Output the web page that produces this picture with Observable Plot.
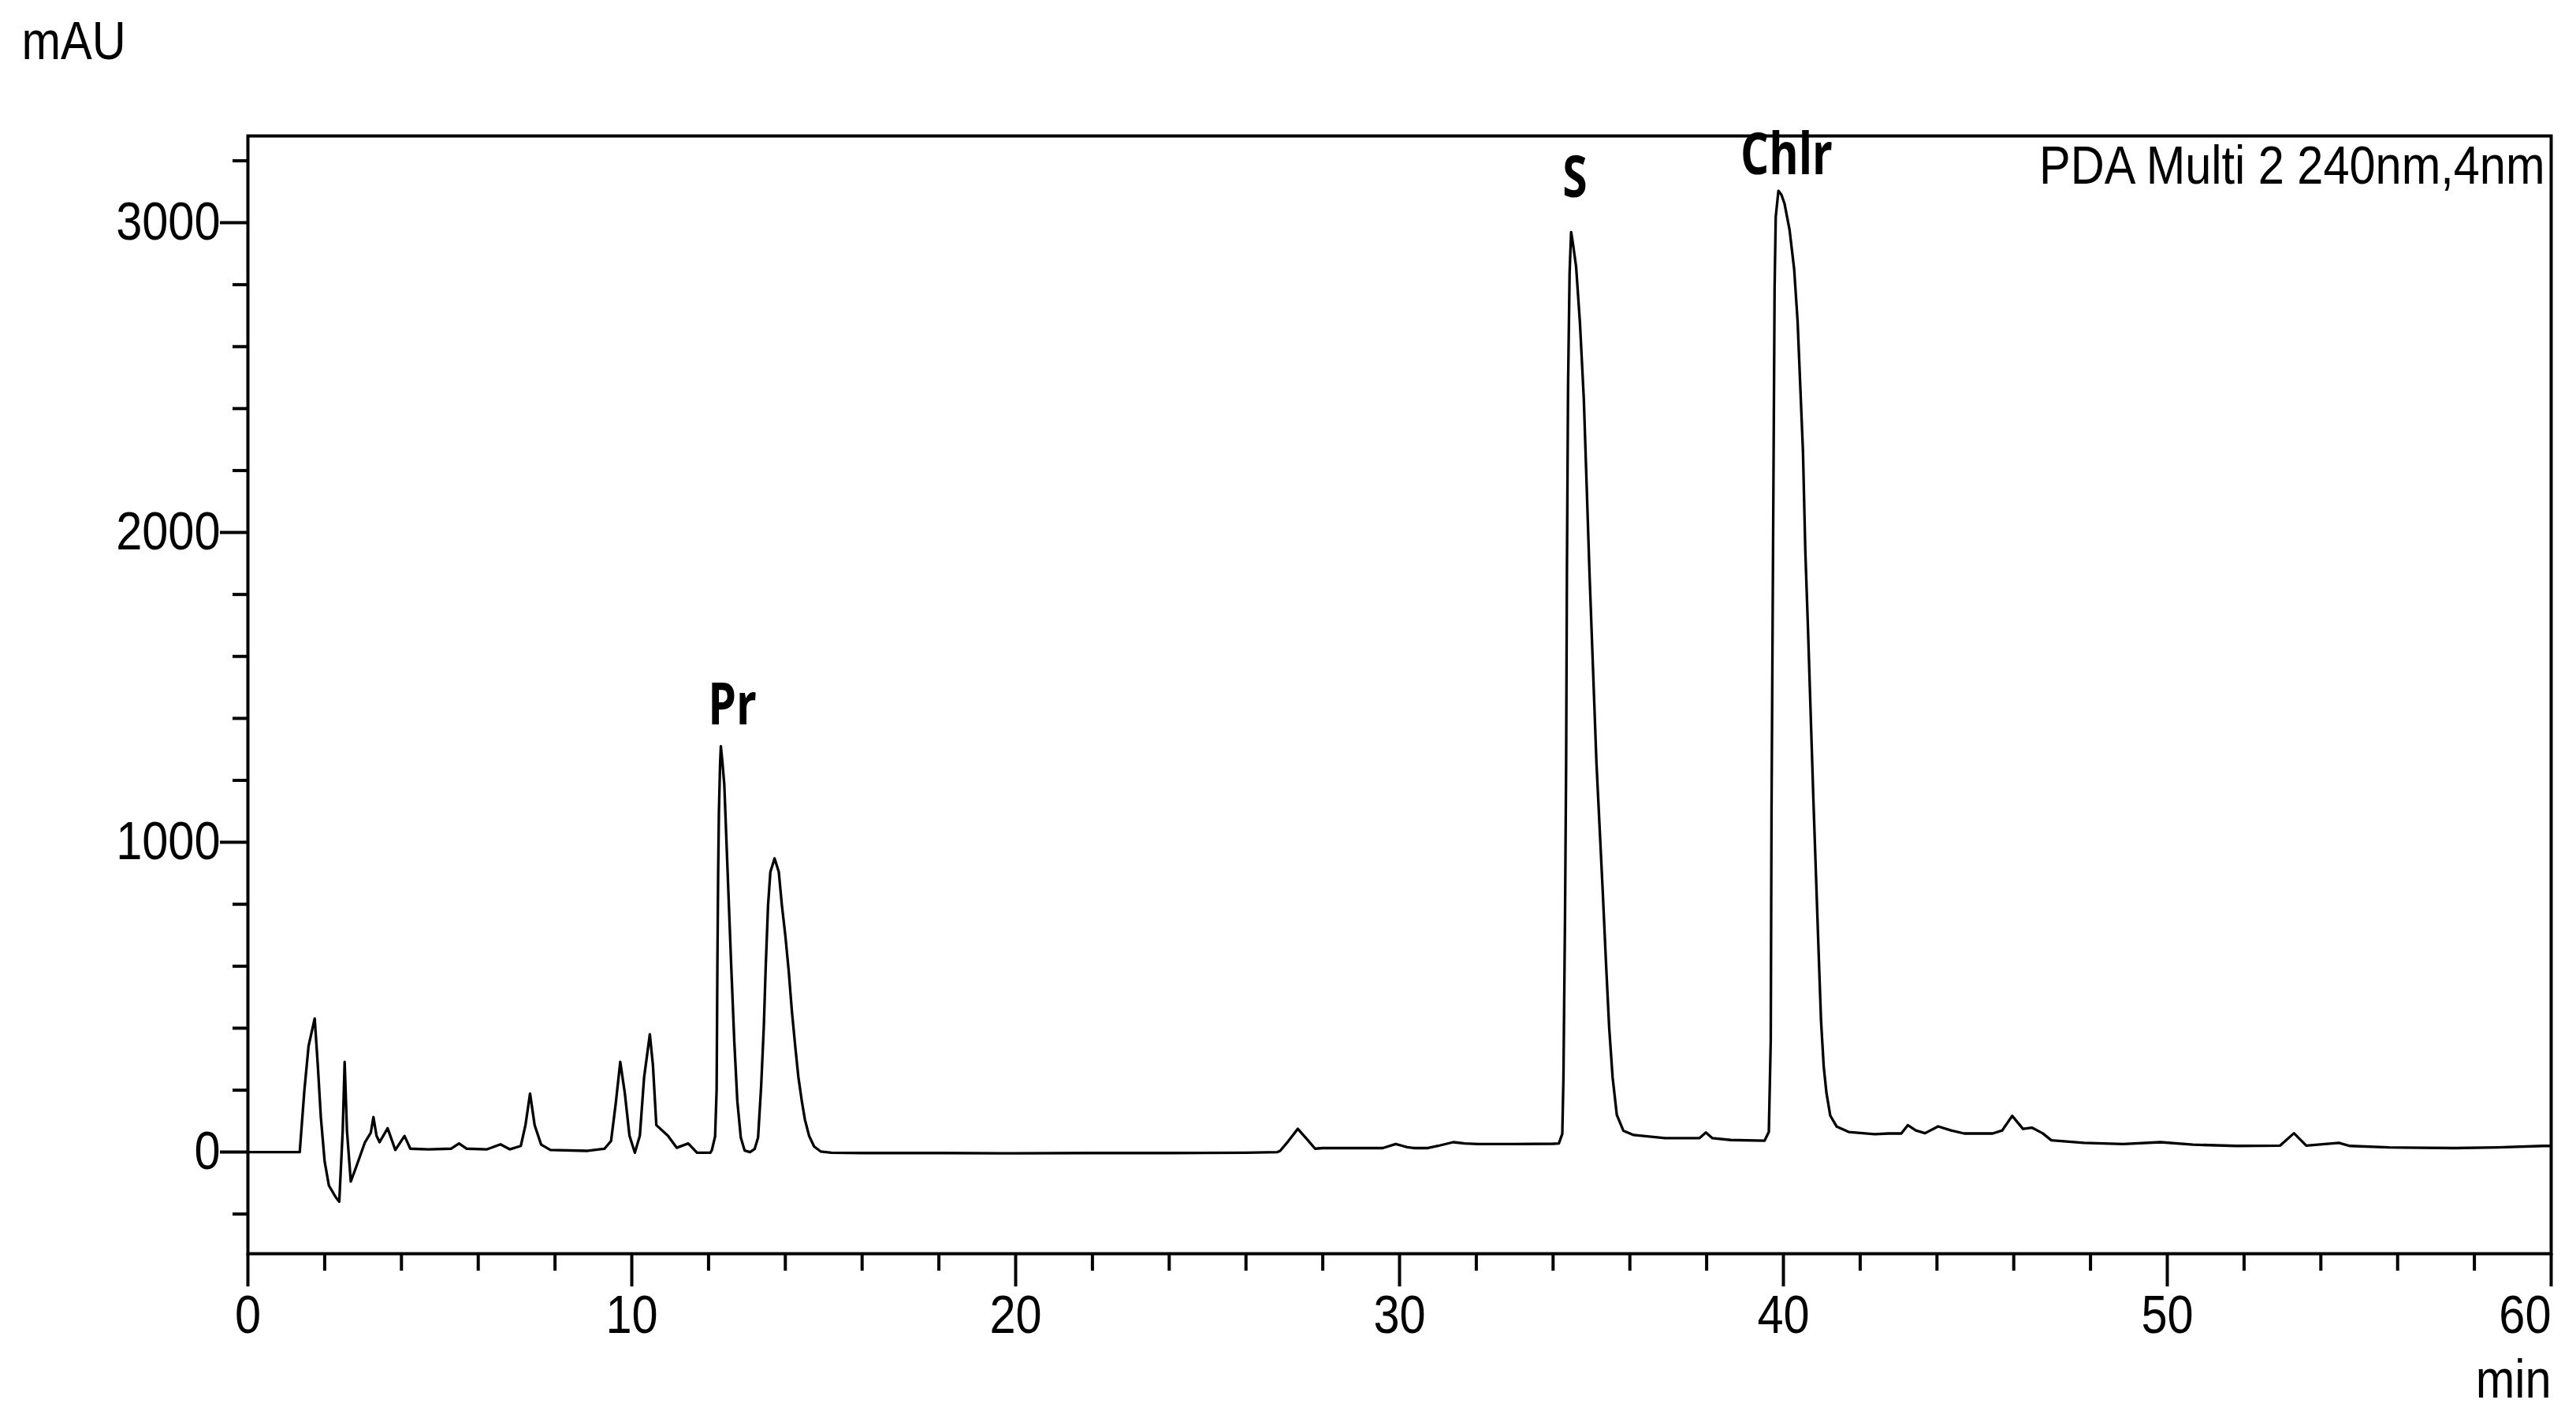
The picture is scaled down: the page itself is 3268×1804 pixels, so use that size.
<!DOCTYPE html>
<html><head><meta charset="utf-8">
<script src="https://cdn.jsdelivr.net/npm/d3@7"></script>
<script src="https://cdn.jsdelivr.net/npm/@observablehq/plot@0.6"></script>
<style>html,body{margin:0;padding:0;background:#fff;overflow:hidden}</style>
</head><body><div id="chart"></div>
<script>
// retention time (min)
const times = [
  0, 1.35, 1.47, 1.58, 1.74, 1.82, 1.90, 2.00, 2.11, 2.29, 2.38, 2.47, 2.52, 2.58, 2.68, 2.82, 3.05, 3.20, 3.27, 3.35, 3.43, 3.64, 3.84, 4.08, 4.23,
  4.70, 5.29, 5.50, 5.70, 6.23, 6.58, 6.82, 7.11, 7.23, 7.35, 7.47, 7.64, 7.88, 8.82, 9.29, 9.46, 9.58, 9.70, 9.82, 9.94, 10.08, 10.21, 10.32, 10.47, 10.55, 10.64, 10.94, 11.17, 11.47, 11.70, 12.05,
  12.09, 12.17, 12.21, 12.23, 12.25, 12.27, 12.30, 12.32, 12.36, 12.41, 12.50, 12.59, 12.67, 12.75, 12.84, 12.94, 13.08,
  13.20, 13.29, 13.37, 13.44, 13.49, 13.55, 13.61, 13.72, 13.83, 13.91, 14.00, 14.09, 14.17, 14.26, 14.34, 14.43, 14.51, 14.62, 14.75, 14.92, 15.2,
  16, 18, 20, 22, 24, 26, 26.82, 26.89, 27.1, 27.35, 27.6, 27.80, 28.0, 29.0, 29.56, 29.9, 30.2, 30.37, 30.74, 31.0, 31.40, 31.7, 32.05, 33.0, 34.0, 34.15,
  34.24, 34.27, 34.31, 34.34, 34.36, 34.39, 34.43, 34.47, 34.52, 34.60, 34.70, 34.80, 34.87, 34.95, 35.04, 35.13, 35.21, 35.29, 35.38, 35.46, 35.55, 35.66, 35.83, 36.10, 36.92, 37.81, 37.98, 38.15, 38.63, 39.51,
  39.62, 39.67, 39.69, 39.72, 39.75, 39.77, 39.80, 39.87, 39.95, 40.03, 40.16, 40.28, 40.37, 40.44, 40.51, 40.57, 40.64, 40.71, 40.78, 40.85, 40.92, 40.98, 41.05, 41.12, 41.22, 41.39, 41.70, 42.38,
  42.73, 43.07, 43.24, 43.45, 43.69, 44.03, 44.37, 44.71, 45.45, 45.70, 45.96, 46.24, 46.47, 46.75, 46.98, 47.83, 48.85, 49.82, 50.67, 51.80, 52.94, 53.30, 53.62, 54.47, 54.75, 55.78, 57.48, 58.61, 59.80, 60
];
// absorbance (mAU)
const absorbance = [
  0, 0, 198, 342, 431, 282, 113, -31, -108, -146, -160, 70, 291, 70, -95, -48, 32, 62, 113, 53, 32, 77, 7, 52, 11,
  9, 11, 28, 11, 9, 25, 9, 20, 87, 189, 87, 24, 7, 4, 11, 36, 155, 291, 189, 53, -2, 53, 240, 380, 282, 87, 53, 14, 28, -2, -2,
  8, 50, 200, 600, 900, 1100, 1250, 1310, 1260, 1186, 894, 602, 358, 164, 47, 5, 0,
  10, 47, 212, 407, 602, 797, 904, 948, 904, 797, 699, 582, 456, 339, 242, 164, 105, 52, 18, 2, -2,
  -3, -3, -4, -3, -3, -2, 0, 4, 35, 75, 40, 11, 13, 13, 13, 26, 16, 13, 13, 20, 32, 28, 26, 26, 27, 28,
  59, 242, 749, 1256, 1864, 2473, 2838, 2970, 2930, 2858, 2676, 2432, 2169, 1864, 1560, 1256, 1053, 850, 607, 404, 242, 120, 69, 55, 45, 45, 63, 45, 39, 37,
  65, 360, 1099, 1732, 2365, 2787, 3019, 3103, 3090, 3061, 2977, 2850, 2681, 2470, 2259, 1943, 1690, 1415, 1141, 888, 635, 424, 276, 192, 118, 82, 65, 58,
  60, 60, 87, 70, 61, 83, 70, 60, 60, 70, 117, 75, 79, 61, 38, 30, 26, 32, 24, 20, 21, 61, 21, 30, 20, 15, 13, 15, 20, 20
];

const yMajorTicks = [0, 1000, 2000, 3000];
const yMinorTicks = [-200, 200, 400, 600, 800, 1200, 1400, 1600, 1800, 2200, 2400, 2600, 2800, 3200];
const xMajorTicks = [0, 10, 20, 30, 40, 50];
const xEndTick = [60];
const xMinorTicks = [2, 4, 6, 8, 12, 14, 16, 18, 22, 24, 26, 28, 32, 34, 36, 38, 42, 44, 46, 48, 52, 54, 56, 58];

const peakNames = ["Pr", "S", "Chlr"];
const peakLabelTimes = [12.62, 34.57, 40.08];
const peakLabelLevels = [1440, 3142, 3216];

const yUnit = "mAU";
const xUnit = "min";
const channelName = "PDA Multi 2 240nm,4nm";

const trace = times.map((t, i) => ({t, v: absorbance[i]}));
const peaks = peakNames.map((name, i) => ({name, t: peakLabelTimes[i], v: peakLabelLevels[i]}));

const FONT = "'Liberation Sans', Arial, sans-serif";
const fmt = d => String(d);

const chart = Plot.plot({
  width: 3268,
  height: 1804,
  marginLeft: 314,
  marginRight: 32,
  marginTop: 172,
  marginBottom: 214,
  style: {fontFamily: FONT, fontSize: "68px", background: "#fff", color: "#000"},
  x: {domain: [0, 60]},
  y: {domain: [-328, 3280]},
  marks: [
    Plot.line(trace, {x: "t", y: "v", stroke: "#000", strokeWidth: 3.3}),
    Plot.frame({stroke: "#000", strokeWidth: 4}),
    Plot.axisY(yMinorTicks, {tickSize: 19, strokeWidth: 4, tickFormat: () => "", label: null}),
    Plot.axisY(yMajorTicks, {tickSize: 35, tickPadding: 0, strokeWidth: 4, fontSize: 68, tickFormat: fmt, label: null}),
    Plot.axisX(xMinorTicks, {tickSize: 22, strokeWidth: 4, tickFormat: () => "", label: null}),
    Plot.axisX(xMajorTicks, {tickSize: 42, tickPadding: 10, strokeWidth: 4, fontSize: 68, tickFormat: fmt, label: null}),
    Plot.axisX(xEndTick, {tickSize: 42, tickPadding: 10, strokeWidth: 4, fontSize: 68, tickFormat: fmt, textAnchor: "end", label: null}),
    Plot.text(peaks, {x: "t", y: "v", text: "name", fontFamily: "'Open Sans', 'Noto Sans', sans-serif", fontWeight: "bold", fontSize: 74, fill: "#000", lineAnchor: "middle"}),
    Plot.text([yUnit], {frameAnchor: "top-left", textAnchor: "start", lineAnchor: "top", dx: -287, dy: -146, fontSize: 68, fill: "#000"}),
    Plot.text([xUnit], {frameAnchor: "bottom-right", textAnchor: "end", lineAnchor: "bottom", dx: 0, dy: 182, fontSize: 68, fill: "#000"}),
    Plot.text([channelName], {frameAnchor: "top-right", textAnchor: "end", lineAnchor: "top", dx: -8, dy: 12, fontSize: 68, fill: "#000"})
  ]
});

document.getElementById("chart").appendChild(chart);

// the original lettering is horizontally condensed: squeeze each text about its own anchor
// (Plot places texts with a translate transform and an em-based y, so only a horizontal scale is appended)
chart.querySelectorAll("text").forEach(t => {
  if (!t.textContent) return;
  const f = peakNames.includes(t.textContent) ? 0.77 : 0.875;
  const tr = t.getAttribute("transform") || "";
  const x = t.getAttribute("x");
  if (x != null && x !== "0") {
    // fall back to textLength if the text is positioned by an x attribute
    const w = t.getComputedTextLength();
    t.setAttribute("textLength", (w * f).toFixed(1));
    t.setAttribute("lengthAdjust", "spacingAndGlyphs");
    return;
  }
  t.setAttribute("transform", `${tr} scale(${f},1)`.trim());
});
</script>
</body></html>
